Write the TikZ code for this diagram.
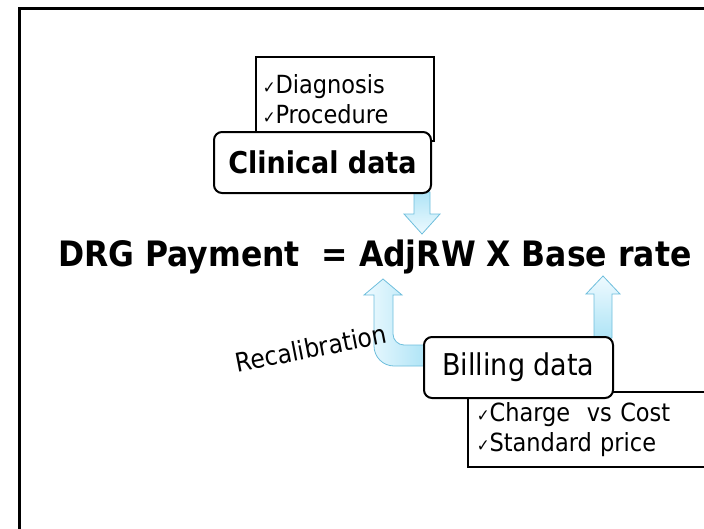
\documentclass[tikz,border=0pt]{standalone}
\usepackage{fontspec}
\setmainfont{DejaVu Sans Condensed}
\usetikzlibrary{positioning, calc, backgrounds}
\definecolor{arrowline}{RGB}{110,190,220}
\definecolor{arrowlight}{RGB}{238,250,255}
\definecolor{arrowdark}{RGB}{175,228,246}
\newcommand{\tick}{{\fontsize{17}{17}\selectfont ✓}}
\tikzset{
    checklist/.style={rectangle, draw=black, line width=1.6pt, anchor=north west, align=left, inner ysep=0pt, font=\fontsize{25}{30}\selectfont},
    databox/.style={rectangle, rounded corners=8pt, draw=black, line width=2pt, fill=white, minimum height=61pt, inner sep=0pt},
    blockarrow/.style={draw=arrowline, line width=0.8pt},
}

\begin{document}
\begin{tikzpicture}[x=1pt,y=-1pt,
  framebox/.style={line width=2.8pt},
  formula/.style={anchor=base west, inner sep=0pt, font=\fontsize{35}{40}\selectfont\bfseries}
]
\useasboundingbox (0,0) rectangle (704,528);
\draw[framebox] (19.5,530) -- (19.5,8.5) -- (706,8.5);

% Checklists
\node[checklist, minimum width=178pt, minimum height=84pt, inner xsep=7pt, text width=164pt] (dxlist) at (255,56) {\tick Diagnosis\\\tick Procedure};
\node[checklist, minimum height=75pt, inner xsep=9pt, text width=240pt] (costlist) at (467,391) {\tick Charge~~vs Cost\\\tick Standard price};

% Data sources
\node[databox, minimum width=217pt, font=\fontsize{30}{34}\selectfont\bfseries] (clin) at (322.5,162.5) {Clinical data};
\node[databox, minimum width=189pt, font=\fontsize{30}{34}\selectfont] (bill) at (518.5,367.5) {Billing data};

% Payment formula
\node[formula] (drg) at (58,266) {DRG Payment~~= AdjRW X Base rate};
\node[rotate=11, font=\fontsize{26}{30}\selectfont] (recal) at (311,348) {Recalibration};

% Block arrows
\begin{scope}[on background layer]
\coordinate (dtop) at ($(clin.south east)+(-10,0)$);
\coordinate (rbase) at ($(bill.north east)+(-11,0)$);
\coordinate (ubase) at ($(bill.west)+(2,-1.5)$);
\draw[blockarrow, top color=arrowdark, bottom color=arrowlight] ($(dtop)+(-8,-2)$) -- ++(0,22) -- ++(-10,0) -- ++(18,20) -- ++(18,-20) -- ++(-10,0) -- ++(0,-22) -- cycle;
\draw[blockarrow, top color=arrowlight, bottom color=arrowdark] ($(rbase)+(-9,2)$) -- ++(0,-44) -- ++(-8,0) -- ++(17,-18) -- ++(17,18) -- ++(-8,0) -- ++(0,44) -- cycle;
\draw[blockarrow, left color=arrowlight, right color=arrowdark] (ubase) -- ++(-31,0) .. controls +(-11,0) and +(0,11) .. ++(-20,-20) -- ++(0,-51) -- ++(-10,0) -- ++(19,-16) -- ++(19,16) -- ++(-9,0) -- ++(0,39) .. controls +(0,6) and +(-6,0) .. ++(11,11) -- ++(21,0) -- cycle;
\end{scope}
\end{tikzpicture}
\end{document}
